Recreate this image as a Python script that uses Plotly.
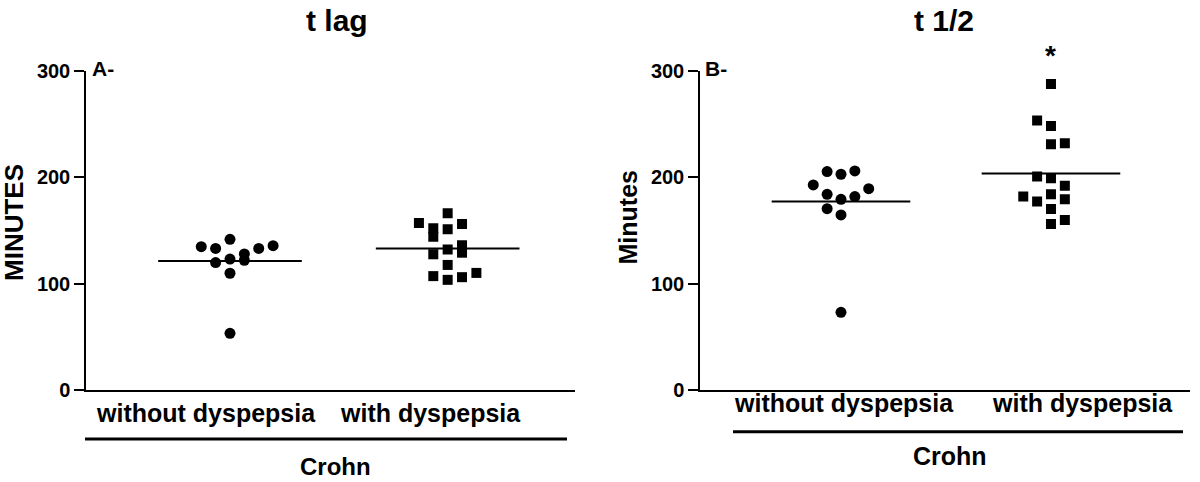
import numpy as np
import plotly.graph_objects as go

# ---------------- data ----------------
categories = ["without dyspepsia", "with dyspepsia"]
group_label = "Crohn"

# Panel A - t lag (minutes)
a_without = [134.7, 133, 141.6, 133, 135.6, 119.7, 123, 127.8, 121.9, 109.7, 53.3]
a_with = [157, 166, 156, 152, 144, 151, 136, 129, 132, 127.5, 117.5, 107, 103.5, 106, 110]

# Panel B - t 1/2 (minutes)
b_without = [205.2, 202.7, 205.8, 192.7, 189.2, 183.9, 179.2, 181.7, 170.4, 164.5, 73]
b_with = [287.6, 253.1, 248.1, 230.9, 231.8, 200.5, 199, 192, 181.7, 177, 183.9,
          179.2, 170.1, 156, 159.8]

y_ticks = [0, 100, 200, 300]

# scatter-dot column slots (horizontal arrangement of points, as in the reference)
a_without_slot = [-2, -1, 0, 2, 3, -1, 0, 1, 1, 0, 0]
a_with_slot = [-2, 0, 1, -1, -1, 0, 1, 1, 0, -1, 0, -1, 0, 1, 2]
b_without_slot = [-1, 0, 1, -2, 2, -1, 0, 1, -1, 0, 0]
b_with_slot = [0, -1, 0, 0, 1, -1, 0, 1, -2, -1, 0, 1, 0, 0, 1]

# ---------------- layout helpers ----------------
W, H = 1200, 482
FONT = "Liberation Sans"


def px(x):
    return x / W


def py(y):
    return 1 - y / H


SLOT = 0.066      # horizontal spacing between columns (axis units)
HALF = 0.33       # half width of the mean line (axis units)

fig = go.Figure()


def add_group(xa, ya, center, values, slots, symbol, size):
    xs = [center + s * SLOT for s in slots]
    fig.add_trace(go.Scatter(
        x=xs, y=values, mode="markers", xaxis=xa, yaxis=ya,
        marker=dict(symbol=symbol, size=size, color="black", line=dict(width=0)),
        showlegend=False, hoverinfo="y"))
    m = float(np.mean(values))
    fig.add_trace(go.Scatter(
        x=[center - HALF, center + HALF], y=[m, m], mode="lines",
        xaxis=xa, yaxis=ya, line=dict(color="black", width=2),
        showlegend=False, hoverinfo="skip"))


add_group("x", "y", 1, a_without, a_without_slot, "circle", 11)
add_group("x", "y", 2, a_with, a_with_slot, "square", 10)
add_group("x2", "y2", 1, b_without, b_without_slot, "circle", 11)
add_group("x2", "y2", 2, b_with, b_with_slot, "square", 10)

ydom = [py(390), py(70.7)]
yaxis_common = dict(
    range=[0, 300], tickvals=y_ticks, ticks="outside", ticklen=10, tickwidth=1.5,
    tickcolor="black", showline=True, linecolor="black", linewidth=1.5,
    showgrid=False, zeroline=False, automargin=False,
    tickfont=dict(family=FONT, size=20, color="black", weight="bold"),
    domain=ydom, fixedrange=True)
xaxis_common = dict(
    showline=True, linecolor="black", linewidth=1.5, showgrid=False, automargin=False,
    zeroline=False, showticklabels=False, ticks="", fixedrange=True)

fig.update_layout(
    template="none",
    width=W, height=H, margin=dict(l=0, r=0, t=0, b=0, autoexpand=False),
    paper_bgcolor="white", plot_bgcolor="white",
    xaxis=dict(xaxis_common, domain=[px(86), px(575)], range=[0.3385, 2.585], anchor="y"),
    yaxis=dict(yaxis_common, anchor="x"),
    xaxis2=dict(xaxis_common, domain=[px(700), px(1190)], range=[0.3286, 2.662], anchor="y2"),
    yaxis2=dict(yaxis_common, anchor="x2"),
)

ann = []


def text(x, y, s, size, angle=0, xanchor="center", xref="paper"):
    ann.append(dict(x=x, y=y, xref=xref, yref="paper", text=s, showarrow=False,
                    xanchor=xanchor, yanchor="middle", textangle=angle, borderpad=0,
                    font=dict(family=FONT, size=size, color="black", weight="bold")))


# titles
text(px(336.7), py(21), "t lag", 30)
text(px(944), py(21), "t 1/2", 30)
# panel letters
text(px(91), py(69), "A-", 21, xanchor="left")
text(px(704), py(69), "B-", 21, xanchor="left")
# y axis titles
text(px(14), py(223), "MINUTES", 26, angle=-90)
text(px(628), py(217.5), "Minutes", 25, angle=-90)
# category labels
text(px(206), py(412.7), categories[0], 25)
text(px(430), py(412.7), categories[1], 25)
text(px(844), py(403), categories[0], 25)
text(px(1082), py(403), categories[1], 25)
# group label
text(px(335), py(466), group_label, 24)
text(px(950), py(456), group_label, 25)
# significance star over panel B "with dyspepsia"
text(2, py(55), "*", 28, xref="x2")

fig.update_layout(annotations=ann)

# group brackets
fig.add_shape(type="line", xref="paper", yref="paper", x0=px(85), x1=px(567),
              y0=py(439), y1=py(439), line=dict(color="black", width=3))
fig.add_shape(type="line", xref="paper", yref="paper", x0=px(733), x1=px(1183),
              y0=py(431.7), y1=py(431.7), line=dict(color="black", width=3))

fig.write_html("out.html", config={"responsive": False, "displayModeBar": False},
               post_script="document.body.style.margin='0';document.body.style.overflow='hidden';")
